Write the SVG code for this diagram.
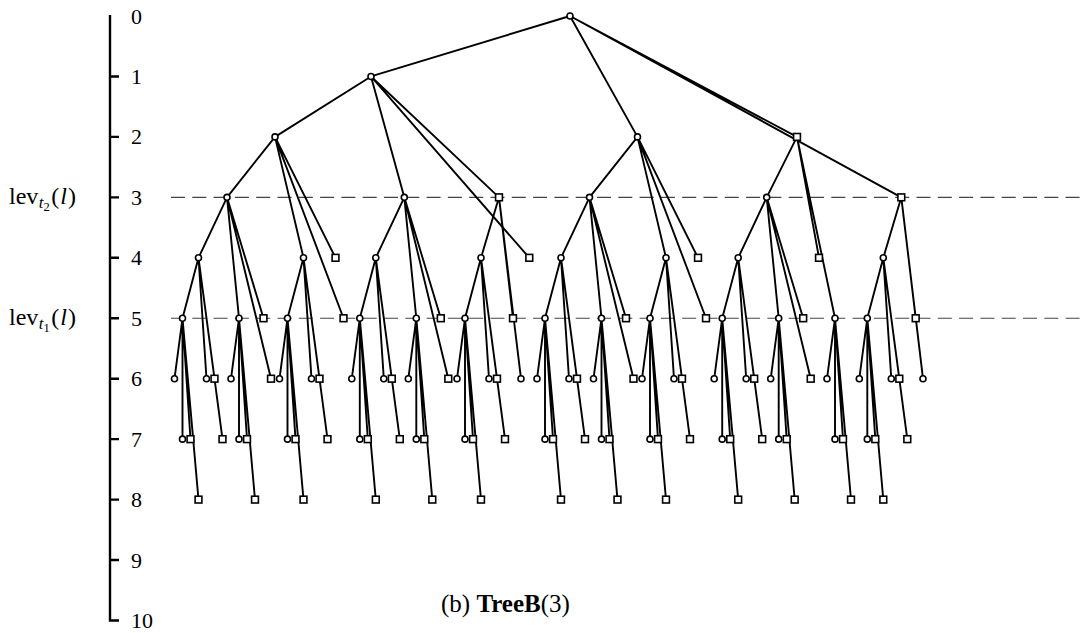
<svg xmlns="http://www.w3.org/2000/svg" xmlns:xlink="http://www.w3.org/1999/xlink" width="1082" height="633" viewBox="0 0 1082 633">
  <style>
    .edge { fill: none; stroke: #000; stroke-width: 1.9; stroke-linecap: round; }
    .node { fill: #fff; stroke: #000; stroke-width: 1.6; }
    .axis { fill: none; stroke: #000; stroke-width: 2.4; }
    .guide { fill: none; stroke: #444; stroke-width: 1.2; stroke-dasharray: 14 7.3; }
    .lbl { font-family: "Liberation Serif", "DejaVu Serif", serif; font-size: 22px; fill: #000; }
    .lev { font-size: 24px; }
    .cap { font-size: 25px; }
  </style>
  <defs>
    <!-- node markers -->
    <circle id="c" r="3"/>
    <rect id="s" x="-3.4" y="-3.4" width="6.8" height="6.8"/>
    <!-- edge fans of the recursive blocks, level spacing 60.45 -->
    <path id="e1" d="M0 0L-8 60.45M0 0L0 120.9M0 0L8 120.9M0 0L16 181.35"/>
    <path id="e2" d="M0 0L-16 60.45M0 0L8 120.9M0 0L16 120.9M0 0L24 181.35"/>
    <path id="e3" d="M0 0L-28.5 60.45M0 0L12 120.9M0 0L36.5 120.9M0 0L44 181.35"/>
    <path id="e4" d="M0 0L-48 60.45M0 0L28.5 120.9M0 0L60.5 120.9M0 0L68.5 181.35"/>
  </defs>

  <!-- level axis -->
  <g id="axis">
    <path class="axis" d="M110 15V620.5H119M110 76.45H119M110 136.9H119M110 197.35H119M110 257.8H119M110 318.25H119M110 378.7H119M110 439.15H119M110 499.6H119M110 560.05H119"/>
    <text class="lbl" x="131" y="23.5">0</text>
    <text class="lbl" x="131" y="84">1</text>
    <text class="lbl" x="131" y="144.4">2</text>
    <text class="lbl" x="131" y="204.8">3</text>
    <text class="lbl" x="131" y="265.3">4</text>
    <text class="lbl" x="131" y="325.7">5</text>
    <text class="lbl" x="131" y="386.2">6</text>
    <text class="lbl" x="131" y="446.6">7</text>
    <text class="lbl" x="131" y="507.1">8</text>
    <text class="lbl" x="131" y="567.5">9</text>
    <text class="lbl" x="131" y="628">10</text>
  </g>

  <!-- level markers -->
  <g id="levels">
    <line class="guide" x1="171" y1="197.35" x2="1080" y2="197.35"/>
    <line class="guide" x1="171" y1="318.25" x2="1080" y2="318.25"/>
    <text class="lbl lev" x="9" y="204">lev<tspan font-style="italic" font-size="17" dx="0.5" dy="4">t</tspan><tspan font-size="12.5" dy="2.5">2</tspan><tspan dx="1.5" dy="-6.5">(</tspan><tspan font-style="italic" dx="1">l</tspan><tspan dx="1">)</tspan></text>
    <text class="lbl lev" x="9" y="325">lev<tspan font-style="italic" font-size="17" dx="0.5" dy="4">t</tspan><tspan font-size="12.5" dy="2.5">1</tspan><tspan dx="1.5" dy="-6.5">(</tspan><tspan font-style="italic" dx="1">l</tspan><tspan dx="1">)</tspan></text>
  </g>

  <g id="connectors" class="edge">
    <path d="M570 16L371 76.45M570 16L637.5 136.9M570 16L797 136.9M570 16L901.3 197.35"/>
    <path d="M371 76.45L275 136.9M371 76.45L404.3 197.35M371 76.45L499 197.35M371 76.45L529.3 257.8"/>
    <path d="M797 136.9L766.7 197.35M797 136.9L819 257.8M797 136.9L835 318.25"/>
    <path d="M499 197.35L481 257.8M499 197.35L513 318.25M499 197.35L521 378.7"/>
    <path d="M901.3 197.35L883.3 257.8M901.3 197.35L915.7 318.25M901.3 197.35L923 378.7"/>
    <use xlink:href="#e4" x="275" y="136.9"/>
    <use xlink:href="#e4" x="637.5" y="136.9"/>
    <use xlink:href="#e3" x="227" y="197.35"/>
    <use xlink:href="#e3" x="404.3" y="197.35"/>
    <use xlink:href="#e3" x="589.5" y="197.35"/>
    <use xlink:href="#e3" x="766.7" y="197.35"/>
    <use xlink:href="#e2" x="198.5" y="257.8"/>
    <use xlink:href="#e2" x="303.5" y="257.8"/>
    <use xlink:href="#e2" x="375.8" y="257.8"/>
    <use xlink:href="#e2" x="481" y="257.8"/>
    <use xlink:href="#e2" x="561" y="257.8"/>
    <use xlink:href="#e2" x="666" y="257.8"/>
    <use xlink:href="#e2" x="738.2" y="257.8"/>
    <use xlink:href="#e2" x="883.3" y="257.8"/>
    <use xlink:href="#e1" x="182.5" y="318.25"/>
    <use xlink:href="#e1" x="239" y="318.25"/>
    <use xlink:href="#e1" x="287.5" y="318.25"/>
    <use xlink:href="#e1" x="359.8" y="318.25"/>
    <use xlink:href="#e1" x="416.3" y="318.25"/>
    <use xlink:href="#e1" x="465" y="318.25"/>
    <use xlink:href="#e1" x="545" y="318.25"/>
    <use xlink:href="#e1" x="601.5" y="318.25"/>
    <use xlink:href="#e1" x="650" y="318.25"/>
    <use xlink:href="#e1" x="722.2" y="318.25"/>
    <use xlink:href="#e1" x="778.7" y="318.25"/>
    <use xlink:href="#e1" x="835" y="318.25"/>
    <use xlink:href="#e1" x="867.3" y="318.25"/>
  </g>

  <g id="nodes" class="node">
    <!-- level 0 -->
    <g id="n0-570"><use xlink:href="#c" x="570" y="16"/></g>
    <!-- level 1 -->
    <g id="n1-371"><use xlink:href="#c" x="371" y="76.45"/></g>
    <!-- level 2 -->
    <g id="n2-275"><use xlink:href="#c" x="275" y="136.9"/></g>
    <g id="n2-637"><use xlink:href="#c" x="637.5" y="136.9"/></g>
    <g id="n2-797"><use xlink:href="#s" x="797" y="136.9"/></g>
    <!-- level 3 -->
    <g id="n3-227"><use xlink:href="#c" x="227" y="197.35"/></g>
    <g id="n3-404"><use xlink:href="#c" x="404.3" y="197.35"/></g>
    <g id="n3-499"><use xlink:href="#s" x="499" y="197.35"/></g>
    <g id="n3-589"><use xlink:href="#c" x="589.5" y="197.35"/></g>
    <g id="n3-767"><use xlink:href="#c" x="766.7" y="197.35"/></g>
    <g id="n3-901"><use xlink:href="#s" x="901.3" y="197.35"/></g>
    <!-- level 4 -->
    <g id="n4-198"><use xlink:href="#c" x="198.5" y="257.8"/></g>
    <g id="n4-303"><use xlink:href="#c" x="303.5" y="257.8"/></g>
    <g id="n4-335"><use xlink:href="#s" x="335.5" y="257.8"/></g>
    <g id="n4-376"><use xlink:href="#c" x="375.8" y="257.8"/></g>
    <g id="n4-481"><use xlink:href="#c" x="481" y="257.8"/></g>
    <g id="n4-529"><use xlink:href="#s" x="529.3" y="257.8"/></g>
    <g id="n4-561"><use xlink:href="#c" x="561" y="257.8"/></g>
    <g id="n4-666"><use xlink:href="#c" x="666" y="257.8"/></g>
    <g id="n4-698"><use xlink:href="#s" x="698" y="257.8"/></g>
    <g id="n4-738"><use xlink:href="#c" x="738.2" y="257.8"/></g>
    <g id="n4-819"><use xlink:href="#s" x="819" y="257.8"/></g>
    <g id="n4-883"><use xlink:href="#c" x="883.3" y="257.8"/></g>
    <!-- level 5 -->
    <g id="n5-182"><use xlink:href="#c" x="182.5" y="318.25"/></g>
    <g id="n5-239"><use xlink:href="#c" x="239" y="318.25"/></g>
    <g id="n5-263"><use xlink:href="#s" x="263.5" y="318.25"/></g>
    <g id="n5-287"><use xlink:href="#c" x="287.5" y="318.25"/></g>
    <g id="n5-343"><use xlink:href="#s" x="343.5" y="318.25"/></g>
    <g id="n5-360"><use xlink:href="#c" x="359.8" y="318.25"/></g>
    <g id="n5-416"><use xlink:href="#c" x="416.3" y="318.25"/></g>
    <g id="n5-441"><use xlink:href="#s" x="440.8" y="318.25"/></g>
    <g id="n5-465"><use xlink:href="#c" x="465" y="318.25"/></g>
    <g id="n5-513"><use xlink:href="#s" x="513" y="318.25"/></g>
    <g id="n5-545"><use xlink:href="#c" x="545" y="318.25"/></g>
    <g id="n5-601"><use xlink:href="#c" x="601.5" y="318.25"/></g>
    <g id="n5-626"><use xlink:href="#s" x="626" y="318.25"/></g>
    <g id="n5-650"><use xlink:href="#c" x="650" y="318.25"/></g>
    <g id="n5-706"><use xlink:href="#s" x="706" y="318.25"/></g>
    <g id="n5-722"><use xlink:href="#c" x="722.2" y="318.25"/></g>
    <g id="n5-779"><use xlink:href="#c" x="778.7" y="318.25"/></g>
    <g id="n5-803"><use xlink:href="#s" x="803.2" y="318.25"/></g>
    <g id="n5-835"><use xlink:href="#c" x="835" y="318.25"/></g>
    <g id="n5-867"><use xlink:href="#c" x="867.3" y="318.25"/></g>
    <g id="n5-916"><use xlink:href="#s" x="915.7" y="318.25"/></g>
    <!-- level 6 -->
    <g id="n6-174"><use xlink:href="#c" x="174.5" y="378.7"/></g>
    <g id="n6-206"><use xlink:href="#c" x="206.5" y="378.7"/></g>
    <g id="n6-214"><use xlink:href="#s" x="214.5" y="378.7"/></g>
    <g id="n6-231"><use xlink:href="#c" x="231" y="378.7"/></g>
    <g id="n6-271"><use xlink:href="#s" x="271" y="378.7"/></g>
    <g id="n6-279"><use xlink:href="#c" x="279.5" y="378.7"/></g>
    <g id="n6-311"><use xlink:href="#c" x="311.5" y="378.7"/></g>
    <g id="n6-319"><use xlink:href="#s" x="319.5" y="378.7"/></g>
    <g id="n6-352"><use xlink:href="#c" x="351.8" y="378.7"/></g>
    <g id="n6-384"><use xlink:href="#c" x="383.8" y="378.7"/></g>
    <g id="n6-392"><use xlink:href="#s" x="391.8" y="378.7"/></g>
    <g id="n6-408"><use xlink:href="#c" x="408.3" y="378.7"/></g>
    <g id="n6-448"><use xlink:href="#s" x="448.3" y="378.7"/></g>
    <g id="n6-457"><use xlink:href="#c" x="457" y="378.7"/></g>
    <g id="n6-489"><use xlink:href="#c" x="489" y="378.7"/></g>
    <g id="n6-497"><use xlink:href="#s" x="497" y="378.7"/></g>
    <g id="n6-521"><use xlink:href="#c" x="521" y="378.7"/></g>
    <g id="n6-537"><use xlink:href="#c" x="537" y="378.7"/></g>
    <g id="n6-569"><use xlink:href="#c" x="569" y="378.7"/></g>
    <g id="n6-577"><use xlink:href="#s" x="577" y="378.7"/></g>
    <g id="n6-593"><use xlink:href="#c" x="593.5" y="378.7"/></g>
    <g id="n6-633"><use xlink:href="#s" x="633.5" y="378.7"/></g>
    <g id="n6-642"><use xlink:href="#c" x="642" y="378.7"/></g>
    <g id="n6-674"><use xlink:href="#c" x="674" y="378.7"/></g>
    <g id="n6-682"><use xlink:href="#s" x="682" y="378.7"/></g>
    <g id="n6-714"><use xlink:href="#c" x="714.2" y="378.7"/></g>
    <g id="n6-746"><use xlink:href="#c" x="746.2" y="378.7"/></g>
    <g id="n6-754"><use xlink:href="#s" x="754.2" y="378.7"/></g>
    <g id="n6-771"><use xlink:href="#c" x="770.7" y="378.7"/></g>
    <g id="n6-811"><use xlink:href="#s" x="810.7" y="378.7"/></g>
    <g id="n6-827"><use xlink:href="#c" x="827" y="378.7"/></g>
    <g id="n6-859"><use xlink:href="#c" x="859.3" y="378.7"/></g>
    <g id="n6-891"><use xlink:href="#c" x="891.3" y="378.7"/></g>
    <g id="n6-899"><use xlink:href="#s" x="899.3" y="378.7"/></g>
    <g id="n6-923"><use xlink:href="#c" x="923" y="378.7"/></g>
    <!-- level 7 -->
    <g id="n7-182"><use xlink:href="#c" x="182.5" y="439.15"/></g>
    <g id="n7-190"><use xlink:href="#s" x="190.5" y="439.15"/></g>
    <g id="n7-222"><use xlink:href="#s" x="222.5" y="439.15"/></g>
    <g id="n7-239"><use xlink:href="#c" x="239" y="439.15"/></g>
    <g id="n7-247"><use xlink:href="#s" x="247" y="439.15"/></g>
    <g id="n7-287"><use xlink:href="#c" x="287.5" y="439.15"/></g>
    <g id="n7-295"><use xlink:href="#s" x="295.5" y="439.15"/></g>
    <g id="n7-327"><use xlink:href="#s" x="327.5" y="439.15"/></g>
    <g id="n7-360"><use xlink:href="#c" x="359.8" y="439.15"/></g>
    <g id="n7-368"><use xlink:href="#s" x="367.8" y="439.15"/></g>
    <g id="n7-400"><use xlink:href="#s" x="399.8" y="439.15"/></g>
    <g id="n7-416"><use xlink:href="#c" x="416.3" y="439.15"/></g>
    <g id="n7-424"><use xlink:href="#s" x="424.3" y="439.15"/></g>
    <g id="n7-465"><use xlink:href="#c" x="465" y="439.15"/></g>
    <g id="n7-473"><use xlink:href="#s" x="473" y="439.15"/></g>
    <g id="n7-505"><use xlink:href="#s" x="505" y="439.15"/></g>
    <g id="n7-545"><use xlink:href="#c" x="545" y="439.15"/></g>
    <g id="n7-553"><use xlink:href="#s" x="553" y="439.15"/></g>
    <g id="n7-585"><use xlink:href="#s" x="585" y="439.15"/></g>
    <g id="n7-601"><use xlink:href="#c" x="601.5" y="439.15"/></g>
    <g id="n7-609"><use xlink:href="#s" x="609.5" y="439.15"/></g>
    <g id="n7-650"><use xlink:href="#c" x="650" y="439.15"/></g>
    <g id="n7-658"><use xlink:href="#s" x="658" y="439.15"/></g>
    <g id="n7-690"><use xlink:href="#s" x="690" y="439.15"/></g>
    <g id="n7-722"><use xlink:href="#c" x="722.2" y="439.15"/></g>
    <g id="n7-730"><use xlink:href="#s" x="730.2" y="439.15"/></g>
    <g id="n7-762"><use xlink:href="#s" x="762.2" y="439.15"/></g>
    <g id="n7-779"><use xlink:href="#c" x="778.7" y="439.15"/></g>
    <g id="n7-787"><use xlink:href="#s" x="786.7" y="439.15"/></g>
    <g id="n7-835"><use xlink:href="#c" x="835" y="439.15"/></g>
    <g id="n7-843"><use xlink:href="#s" x="843" y="439.15"/></g>
    <g id="n7-867"><use xlink:href="#c" x="867.3" y="439.15"/></g>
    <g id="n7-875"><use xlink:href="#s" x="875.3" y="439.15"/></g>
    <g id="n7-907"><use xlink:href="#s" x="907.3" y="439.15"/></g>
    <!-- level 8 -->
    <g id="n8-198"><use xlink:href="#s" x="198.5" y="499.6"/></g>
    <g id="n8-255"><use xlink:href="#s" x="255" y="499.6"/></g>
    <g id="n8-303"><use xlink:href="#s" x="303.5" y="499.6"/></g>
    <g id="n8-376"><use xlink:href="#s" x="375.8" y="499.6"/></g>
    <g id="n8-432"><use xlink:href="#s" x="432.3" y="499.6"/></g>
    <g id="n8-481"><use xlink:href="#s" x="481" y="499.6"/></g>
    <g id="n8-561"><use xlink:href="#s" x="561" y="499.6"/></g>
    <g id="n8-617"><use xlink:href="#s" x="617.5" y="499.6"/></g>
    <g id="n8-666"><use xlink:href="#s" x="666" y="499.6"/></g>
    <g id="n8-738"><use xlink:href="#s" x="738.2" y="499.6"/></g>
    <g id="n8-795"><use xlink:href="#s" x="794.7" y="499.6"/></g>
    <g id="n8-851"><use xlink:href="#s" x="851" y="499.6"/></g>
    <g id="n8-883"><use xlink:href="#s" x="883.3" y="499.6"/></g>
  </g>

  <!-- caption -->
  <text class="lbl cap" x="441" y="612">(b) <tspan font-weight="bold">TreeB</tspan>(3)</text>
</svg>
